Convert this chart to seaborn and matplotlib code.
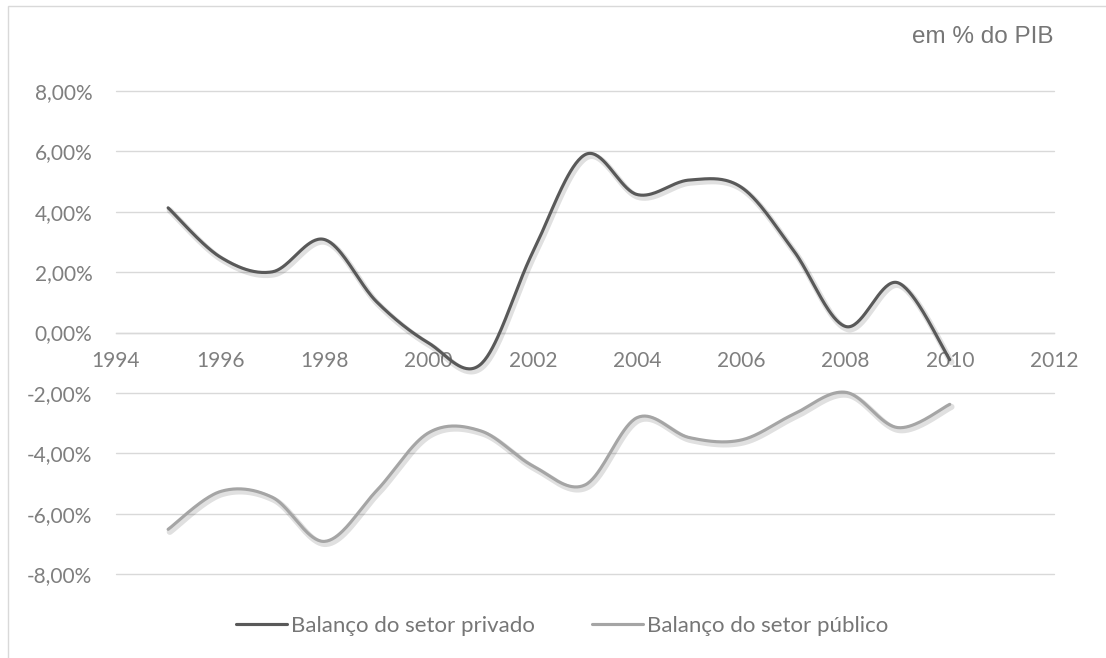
import numpy as np
import pandas as pd
import matplotlib
matplotlib.use("Agg")
import matplotlib.pyplot as plt
import matplotlib.patheffects as pe
from matplotlib.lines import Line2D
from matplotlib.patches import Rectangle
from matplotlib.ticker import FuncFormatter
import seaborn as sns

# ---- data (in % of GDP) ----
years = [1995, 1996, 1997, 1998, 1999, 2000, 2001, 2002, 2003,
         2004, 2005, 2006, 2007, 2008, 2009, 2010]
privado = [4.13, 2.50, 2.01, 3.08, 1.02, -0.35, -1.05, 2.67, 5.89,
           4.57, 5.05, 4.81, 2.72, 0.20, 1.65, -0.90]
publico = [-6.52, -5.27, -5.46, -6.92, -5.24, -3.32, -3.26, -4.42, -5.05,
           -2.82, -3.48, -3.56, -2.71, -1.98, -3.15, -2.38]
serie_labels = ["Balanço do setor privado", "Balanço do setor público"]
serie_colors = ["#595959", "#a5a5a5"]
x_ticks = [1994, 1996, 1998, 2000, 2002, 2004, 2006, 2008, 2010, 2012]
y_ticks = [-8, -6, -4, -2, 0, 2, 4, 6, 8]
subtitle = "em % do PIB"


def smooth(xv, yv, n=40):
    """Excel-like smoothed line (Bezier through points)."""
    p = np.column_stack([xv, yv]).astype(float)
    ext = np.vstack([p[0], p, p[-1]])
    out = []
    for i in range(len(p) - 1):
        p0, p1 = ext[i + 1], ext[i + 2]
        c1 = p0 + (ext[i + 2] - ext[i]) / 6.0
        c2 = p1 - (ext[i + 3] - ext[i + 1]) / 6.0
        t = np.linspace(0, 1, n, endpoint=(i == len(p) - 2))[:, None]
        seg = ((1 - t) ** 3) * p0 + 3 * ((1 - t) ** 2) * t * c1 + 3 * (1 - t) * t ** 2 * c2 + t ** 3 * p1
        out.append(seg)
    a = np.vstack(out)
    return a[:, 0], a[:, 1]


sns.set_theme(style="white")
plt.rcParams["font.family"] = ["Lato", "DejaVu Sans"]

W, H = 1106, 658
fig = plt.figure(figsize=(W / 100, H / 100), dpi=100)
ax = fig.add_axes([116 / W, 1 - 574 / H, (1054 - 116) / W, (574 - 91) / H])

# outer chart border
fig.patches.append(Rectangle((8 / W, -0.1), 1.5, (H - 6) / H + 0.1, transform=fig.transFigure,
                             fill=False, edgecolor="#d9d9d9", linewidth=1.0, zorder=0))

shadow = [pe.SimpleLineShadow(offset=(1.2, -1.8), shadow_color="black", alpha=0.12, linewidth=4.5),
          pe.Normal()]

frames = []
for vals, lab in zip([privado, publico], serie_labels):
    sx, sy = smooth(years, vals)
    frames.append(pd.DataFrame({"ano": sx, "valor": sy, "serie": lab}))
df = pd.concat(frames, ignore_index=True)

for lab, col in zip(serie_labels, serie_colors):
    sub = df[df["serie"] == lab]
    sns.lineplot(data=sub, x="ano", y="valor", ax=ax, color=col, linewidth=2.25,
                 sort=False, estimator=None, legend=False, zorder=3)
for ln in ax.lines:
    ln.set_path_effects(shadow)
    ln.set_solid_capstyle("round")

ax.set_xlim(1994, 2012)
ax.set_ylim(-8, 8)
ax.set_xticks(x_ticks)
ax.set_yticks(y_ticks)
ax.yaxis.set_major_formatter(FuncFormatter(lambda v, p: f"{v:.2f}%".replace(".", ",")))
ax.xaxis.set_major_formatter(FuncFormatter(lambda v, p: f"{int(round(v))}"))
ax.set_xlabel("")
ax.set_ylabel("")

ax.yaxis.grid(True, color="#d9d9d9", linewidth=1.0)
ax.xaxis.grid(False)
for gl in ax.yaxis.get_gridlines():
    gl.set_clip_on(False)
for s in ["top", "left", "right"]:
    ax.spines[s].set_visible(False)
ax.spines["bottom"].set_position(("data", 0))
ax.spines["bottom"].set_color("#d9d9d9")
ax.spines["bottom"].set_linewidth(1.0)
ax.spines["bottom"].set_zorder(1)
ax.tick_params(axis="y", length=0, pad=17, labelsize=15, labelcolor="#7f7f7f")
ax.tick_params(axis="x", length=0, pad=13, labelsize=15, labelcolor="#7f7f7f")
ax.set_facecolor("white")

fig.text(1053 / W, 1 - 37 / H, subtitle, ha="right", va="center", fontsize=17.5,
         color="#767676", family=["Liberation Sans", "DejaVu Sans"])

handles = [Line2D([0], [0], color=c, lw=2.25) for c in serie_colors]
fig.legend(handles, serie_labels, loc="center", bbox_to_anchor=(562 / W, 1 - 626 / H),
           ncol=2, frameon=False, handlelength=2.3, handletextpad=0.15, columnspacing=2.6,
           fontsize=16, labelcolor="#767676")

fig.savefig("out.png", dpi=100, facecolor="white")
